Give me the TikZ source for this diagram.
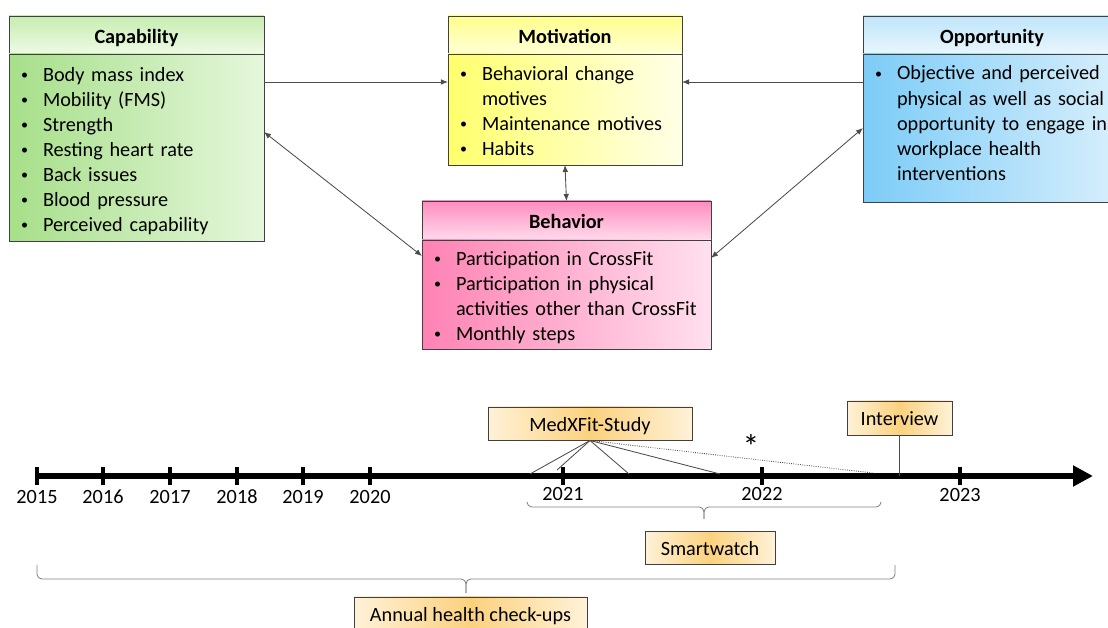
\documentclass[tikz,border=0pt]{standalone}
\usepackage{fontspec}
\setmainfont{Carlito}
\usepackage{tikz}
\usetikzlibrary{positioning}
\usetikzlibrary{arrows.meta}

\definecolor{capTop}{HTML}{C6EDB0}
\definecolor{capBot}{HTML}{EEFAE6}
\definecolor{capLeft}{HTML}{A6DF89}
\definecolor{capRight}{HTML}{E6F7DC}
\definecolor{motTop}{HTML}{FFFF8C}
\definecolor{motBot}{HTML}{FFFFD6}
\definecolor{motLeft}{HTML}{FFFF6C}
\definecolor{motRight}{HTML}{FFFFE8}
\definecolor{behTop}{HTML}{FF8CBF}
\definecolor{behBot}{HTML}{FFDCEC}
\definecolor{behLeft}{HTML}{FF82B4}
\definecolor{behRight}{HTML}{FFE0EE}
\definecolor{oppTop}{HTML}{BFE5FA}
\definecolor{oppBot}{HTML}{EAF6FD}
\definecolor{oppLeft}{HTML}{7CCCF7}
\definecolor{oppRight}{HTML}{D8EFFC}
\definecolor{evSide}{HTML}{FFF2D8}
\definecolor{evMid}{HTML}{FBD17E}

\newcommand{\boxfont}{\fontsize{14.4}{17.8}\selectfont}
\newcommand{\bul}{\makebox[0.6cm][l]{\hspace{1.5pt}\raisebox{1.4pt}{\fontsize{10}{10}\selectfont\textbullet}}}
\newcommand{\ind}{\hspace*{0.6cm}}

\tikzset{
  head/.style={draw=black!75, line width=0.7pt, outer sep=0pt, minimum height=0.95cm, anchor=north west, text height=14.5pt, text depth=2.9pt, font=\boxfont\bfseries},
  body/.style={draw=black!75, line width=0.7pt, outer sep=0pt, inner xsep=0.25cm, align=left, font=\boxfont},
  shiftdown/.style={execute at begin node={\rule{0pt}{#1}}},
  shiftup/.style={execute at end node={\rule[-#1]{0pt}{0pt}}},
  conn/.style={draw=black!70, line width=0.6pt},
  event/.style={draw=black!75, line width=0.7pt, left color=evSide, right color=evSide, middle color=evMid, minimum height=0.825cm, text height=13.6pt, text depth=2.9pt, font=\boxfont},
  yearlbl/.style={font=\boxfont},
  bline/.style={draw=black!50, line width=0.6pt, rounded corners=0.12cm},
  >={Latex[length=5pt,width=4pt]}
}

\begin{document}
\begin{tikzpicture}
\useasboundingbox (0,0) rectangle (27.7,15.7);
\clip (0,0) rectangle (27.7,15.7);

\node[head, minimum width=6.375cm, top color=capTop, bottom color=capBot] (caph) at (0.225,15.3) {Capability};
\node[body, shiftdown=14.7pt, text width=5.875cm, minimum height=4.675cm, left color=capLeft, right color=capRight, below=0pt of caph] (cap)
  {\bul Body mass index\\ \bul Mobility (FMS)\\ \bul Strength\\ \bul Resting heart rate\\ \bul Back issues\\ \bul Blood pressure\\ \bul Perceived capability};

\node[head, minimum width=5.85cm, top color=motTop, bottom color=motBot] (moth) at (11.2,15.3) {Motivation};
\node[body, shiftdown=11.9pt, text width=5.35cm, minimum height=2.775cm, left color=motLeft, right color=motRight, below=0pt of moth] (mot)
  {\bul Behavioral change\\ \ind motives\\ \bul Maintenance motives\\ \bul Habits};

\node[head, minimum width=6.45cm, top color=oppTop, bottom color=oppBot] (opph) at (21.575,15.3) {Opportunity};
\node[body, shiftup=7.1pt, text width=5.95cm, minimum height=3.7cm, left color=oppLeft, right color=oppRight, below=0pt of opph] (opp)
  {\bul Objective and perceived\\ \ind physical as well as social\\ \ind opportunity to engage in\\ \ind workplace health\\ \ind interventions};

\node[head, minimum width=7.225cm, minimum height=0.975cm, top color=behTop, bottom color=behBot] (behh) at (10.55,10.675) {Behavior};
\node[body, shiftdown=14.7pt, text width=6.725cm, minimum height=2.725cm, left color=behLeft, right color=behRight, below=0pt of behh] (beh)
  {\bul Participation in CrossFit\\ \bul Participation in physical\\ \ind activities other than CrossFit\\ \bul Monthly steps};

\draw[conn,->] ([yshift=-0.7cm]cap.north east) -- ([yshift=-0.7cm]mot.north west);
\draw[conn,->] ([yshift=-0.7cm]opp.north west) -- ([yshift=-0.7cm]mot.north east);
\draw[conn,<->] (mot.south) -- (behh.north);
\draw[conn,<->] ([yshift=-1.95cm]cap.north east) -- ([yshift=-0.4cm]beh.north west);
\draw[conn,<->] ([yshift=-1.85cm]opp.north west) -- ([yshift=-0.45cm]beh.north east);

\coordinate (t0) at (0.925,3.8);
\coordinate (t1) at (27.325,3.8);
\draw[line width=0.15cm,-{Triangle[length=0.5cm,width=0.5cm]}] (t0) -- (t1);
\foreach \x/\yr/\ly in {0.925/2015/3.275, 2.575/2016/3.275, 4.25/2017/3.275, 5.925/2018/3.275, 7.575/2019/3.275, 9.25/2020/3.275, 14.075/2021/3.35, 19.05/2022/3.35, 24.0/2023/3.325}
{
\draw[line width=2.2pt] (\x,4.025) -- (\x,3.575);
\node[yearlbl] (y\yr) at (\x,\ly) {\yr};
}

\node[event, minimum width=5.1cm] (med) at (14.75,5.1125) {MedXFit-Study};
\node[event, minimum width=2.625cm, minimum height=0.85cm] (int) at (22.4875,5.25) {Interview};
\node[event, minimum width=3.25cm, minimum height=0.8cm] (sw) at (17.75,2.0) {Smartwatch};
\node[event, minimum width=5.825cm] (ann) at (11.7625,0.3625) {Annual health check-ups};

\coordinate (m1) at (13.25,3.85);
\coordinate (m2) at (13.925,3.95);
\coordinate (m3) at (15.725,3.85);
\coordinate (m4) at (18.0,3.85);
\coordinate (m5) at (21.825,3.875);
\foreach \c in {m1,m2,m3,m4}
  \draw[conn] (med.south) -- (\c);
\draw[conn,densely dotted] (med.south) -- (m5);
\node[font=\fontsize{24}{24}\selectfont] (ast) at (18.775,4.525) {*};
\draw[conn] (int.south) -- (int.south |- t0);

\coordinate (sw0) at (13.175,3.15);
\coordinate (sw1) at (22.025,3.15);
\coordinate (swh) at (17.6,3.025);
\coordinate (swt) at (17.6,2.725);
\draw[bline] (sw0) -- (sw0 |- swh) -- (swh) -- (swt);
\draw[bline] (sw1) -- (sw1 |- swh) -- (swh) -- (swt);
\coordinate (an0) at (0.925,1.575);
\coordinate (an1) at (22.375,1.575);
\coordinate (anh) at (11.65,1.225);
\coordinate (ant) at (11.65,0.875);
\draw[bline] (an0) -- (an0 |- anh) -- (anh) -- (ant);
\draw[bline] (an1) -- (an1 |- anh) -- (anh) -- (ant);

\end{tikzpicture}
\end{document}
